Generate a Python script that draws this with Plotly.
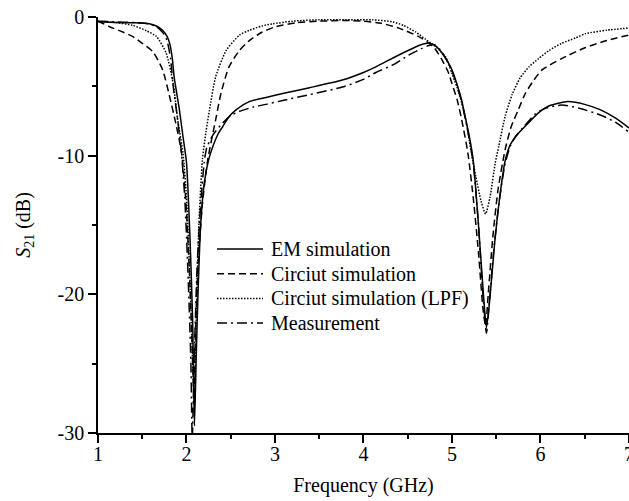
import plotly.graph_objects as go

# Frequency (GHz) and S21 (dB) for each curve
em_freq = [1.00, 1.20, 1.40, 1.58, 1.66, 1.73, 1.78, 1.81, 1.84, 1.86, 1.89, 1.92, 1.96,
           2.00, 2.04, 2.07, 2.09, 2.11, 2.13, 2.16, 2.20, 2.25, 2.30, 2.36, 2.41, 2.48,
           2.56, 2.71, 2.90, 3.10, 3.39, 3.76, 4.00, 4.14, 4.35, 4.51, 4.65, 4.74, 4.82,
           4.90, 4.96, 5.00, 5.06, 5.11, 5.15, 5.19, 5.24, 5.30, 5.35, 5.39, 5.43, 5.48,
           5.54, 5.60, 5.66, 5.75, 5.87, 5.98, 6.10, 6.31, 6.50, 6.68, 6.85, 7.00]
em_s21 = [-0.35, -0.40, -0.42, -0.48, -0.65, -0.96, -1.4, -1.9, -3.0, -4.3, -5.5, -6.7, -8.6,
          -10.5, -16.0, -22.0, -29.5, -24.5, -20.0, -15.0, -12.0, -10.3, -9.3, -8.4, -7.9, -7.2,
          -6.7, -6.1, -5.8, -5.5, -5.1, -4.55, -4.0, -3.6, -2.9, -2.4, -2.0, -1.87, -2.1,
          -2.7, -3.3, -3.8, -4.9, -6.0, -7.2, -8.4, -10.3, -15.0, -19.5, -22.4, -20.2, -16.5,
          -13.0, -10.4, -9.2, -8.4, -7.6, -6.9, -6.4, -6.1, -6.3, -6.7, -7.3, -8.0]

circ_freq = [1.00, 1.05, 1.13, 1.25, 1.39, 1.50, 1.62, 1.73, 1.81, 1.88, 1.94, 1.99, 2.03,
             2.06, 2.085, 2.10, 2.13, 2.18, 2.24, 2.33, 2.39, 2.48, 2.60, 2.71, 2.85, 3.01,
             3.25, 3.50, 3.80, 4.00, 4.20, 4.40, 4.62, 4.72, 4.81, 4.88, 4.96, 5.00, 5.06,
             5.11, 5.18, 5.24, 5.30, 5.35, 5.38, 5.41, 5.46, 5.52, 5.60, 5.67, 5.75, 5.83,
             5.92, 6.02, 6.24, 6.51, 6.75, 7.00]
circ_s21 = [-0.30, -0.45, -0.70, -1.0, -1.4, -1.9, -2.5, -3.8, -5.75, -7.7, -9.6, -13.0, -18.0,
            -23.0, -27.5, -23.0, -18.0, -13.5, -10.3, -7.4, -5.5, -3.6, -2.4, -1.7, -1.1, -0.7,
            -0.4, -0.3, -0.25, -0.3, -0.45, -0.8, -1.4, -1.8, -2.3, -3.0, -4.0, -4.8, -6.0,
            -7.4, -9.8, -13.0, -17.0, -21.0, -22.3, -20.0, -16.0, -12.5, -9.6, -7.9, -6.7, -5.5,
            -4.6, -3.8, -3.0, -2.2, -1.7, -1.3]

lpf_freq = [1.00, 1.20, 1.39, 1.55, 1.66, 1.77, 1.85, 1.90, 1.96, 2.00, 2.04, 2.07, 2.09,
            2.11, 2.14, 2.18, 2.22, 2.26, 2.33, 2.45, 2.60, 2.71, 2.85, 2.97, 3.20, 3.50,
            3.90, 4.10, 4.33, 4.45, 4.59, 4.70, 4.82, 4.93, 5.00, 5.08, 5.15, 5.22, 5.27,
            5.33, 5.38, 5.43, 5.49, 5.53, 5.60, 5.68, 5.77, 5.87, 5.98, 6.10, 6.24, 6.40,
            6.51, 6.75, 7.00]
lpf_s21 = [-0.30, -0.40, -0.60, -1.0, -1.4, -2.6, -4.8, -7.4, -9.8, -13.0, -19.0, -25.0, -28.0,
           -22.0, -15.0, -10.3, -8.3, -6.7, -4.3, -2.4, -1.3, -0.96, -0.65, -0.5, -0.3, -0.2,
           -0.2, -0.2, -0.35, -0.6, -1.08, -1.6, -2.16, -2.9, -4.07, -5.5, -7.2, -9.8, -11.5,
           -13.3, -14.2, -13.0, -10.5, -9.3, -7.2, -5.6, -4.4, -3.6, -3.0, -2.4, -1.9, -1.5,
           -1.2, -0.95, -0.8]

meas_freq = [1.00, 1.20, 1.40, 1.58, 1.66, 1.73, 1.78, 1.82, 1.85, 1.90, 1.94, 1.98, 2.02,
             2.05, 2.065, 2.09, 2.12, 2.16, 2.20, 2.23, 2.30, 2.40, 2.50, 2.60, 2.75, 2.90,
             3.10, 3.39, 3.76, 4.00, 4.14, 4.35, 4.51, 4.65, 4.74, 4.80, 4.86, 4.92, 4.98,
             5.04, 5.10, 5.15, 5.19, 5.24, 5.30, 5.35, 5.39, 5.42, 5.47, 5.53, 5.60, 5.66,
             5.72, 5.80, 5.94, 6.05, 6.24, 6.45, 6.69, 6.85, 7.00]
meas_s21 = [-0.30, -0.35, -0.40, -0.50, -0.70, -1.1, -1.7, -3.0, -5.0, -7.4, -9.6, -13.0, -19.0,
            -25.0, -30.5, -24.0, -18.0, -13.5, -10.5, -9.4, -8.5, -7.7, -7.1, -6.8, -6.5, -6.3,
            -6.0, -5.6, -5.05, -4.5, -4.0, -3.4, -2.75, -2.3, -2.05, -2.0, -2.3, -2.9, -3.6,
            -4.6, -5.9, -7.3, -8.6, -10.5, -15.0, -20.0, -22.8, -20.8, -17.0, -13.5, -10.6, -9.3,
            -8.6, -8.0, -7.0, -6.6, -6.35, -6.6, -7.1, -7.6, -8.3]

x_ticks = [1, 2, 3, 4, 5, 6, 7]
y_ticks = [-30, -20, -10, 0]
y_tick_text = ["-30", "-20", "-10", "0"]

FONT = "Liberation Serif, Times New Roman, serif"

series = [
    ("EM simulation", em_freq, em_s21, "solid"),
    ("Circiut simulation", circ_freq, circ_s21, "7px,4px"),
    ("Circiut simulation (LPF)", lpf_freq, lpf_s21, "1.5px,1.5px"),
    ("Measurement", meas_freq, meas_s21, "10px,4px,2px,4px"),
]

W, H = 629, 501
M = dict(l=98, r=0, t=17, b=68)
plot_w = W - M["l"] - M["r"]
plot_h = H - M["t"] - M["b"]

fig = go.Figure()
for name, xs, ys, dash in series:
    fig.add_trace(go.Scatter(
        x=xs, y=ys, name=name, mode="lines", showlegend=False,
        line=dict(color="black", width=1.5, dash=dash, shape="spline", smoothing=0.6),
    ))

# Key drawn in paper space: longer line samples and tighter rows than the built-in legend
key_left, key_line_len, key_text_gap = 217, 46, 6
key_top, key_row = 249, 24.7
for i, (name, _, _, dash) in enumerate(series):
    py = key_top + i * key_row
    yp = (H - M["b"] - py) / plot_h
    x0 = (key_left - M["l"]) / plot_w
    x1 = (key_left + key_line_len - M["l"]) / plot_w
    xt = (key_left + key_line_len + key_text_gap - M["l"]) / plot_w
    fig.add_shape(type="line", xref="paper", yref="paper", x0=x0, x1=x1, y0=yp, y1=yp,
                  line=dict(color="black", width=1.5, dash=dash))
    fig.add_annotation(xref="paper", yref="paper", x=xt, y=yp, text=name,
                       showarrow=False, xanchor="left", yanchor="middle",
                       font=dict(family=FONT, size=20, color="black"))

axis_common = dict(showgrid=False, zeroline=False, linecolor="black", linewidth=1.5,
                   tickcolor="black", tickwidth=1.5, ticklen=8, automargin=False)

fig.update_layout(
    width=W, height=H,
    margin=M,
    paper_bgcolor="white", plot_bgcolor="white",
    font=dict(family=FONT, size=20, color="black"),
    showlegend=False,
    xaxis=dict(range=[1, 7.001], tickvals=x_ticks, ticks="outside", showline=True,
               ticklabelstandoff=-6, ticklabeloverflow="allow",
               minor=dict(dtick=0.5, tick0=1, ticks="outside", ticklen=4,
                          tickwidth=1.5, tickcolor="black"),
               title=dict(text="Frequency (GHz)", standoff=14,
                          font=dict(family=FONT, size=20)),
               **axis_common),
    xaxis2=dict(range=[1, 7.001], overlaying="x", side="top", anchor="y",
                tickvals=x_ticks, ticks="inside", showline=True, showticklabels=False,
                minor=dict(dtick=0.5, tick0=1, ticks="inside", ticklen=4,
                           tickwidth=1.5, tickcolor="black"),
                **axis_common),
    yaxis=dict(range=[-30, 0], tickvals=y_ticks, ticktext=y_tick_text, ticks="outside",
               showline=True,
               minor=dict(dtick=5, tick0=0, ticks="outside", ticklen=4,
                          tickwidth=1.5, tickcolor="black"),
               title=dict(text="<i>S</i><sub>21</sub> (dB)", standoff=22,
                          font=dict(family=FONT, size=20)),
               **axis_common),
    yaxis2=dict(range=[-30, 0], overlaying="y", side="right", anchor="x",
                tickvals=y_ticks, ticks="inside", showline=False, showticklabels=False,
                minor=dict(dtick=5, tick0=0, ticks="inside", ticklen=4,
                           tickwidth=1.5, tickcolor="black"),
                **axis_common),
)

fig.write_html("out.html")
